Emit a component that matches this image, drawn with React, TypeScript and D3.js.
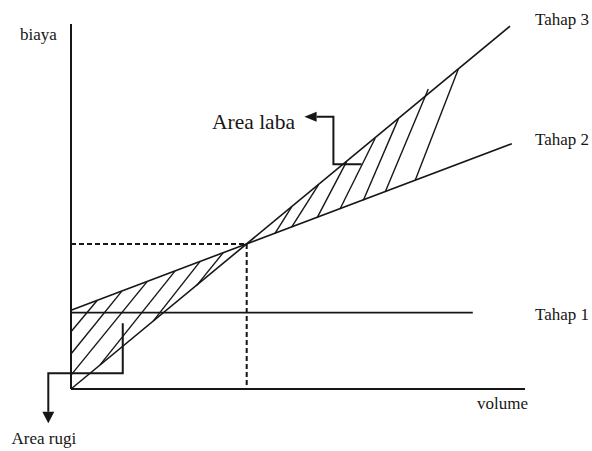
import React from "react";
import * as d3 from "d3";

// ---- data (abstract units: volume 0..100, biaya 0..100) ----
const volumeDomain = [0, 100];
const costDomain = [0, 100];

const tahap1Volume = [0, 88.5];
const tahap1Cost = [20.9, 20.9];

const tahap2Volume = [0, 97.1];
const tahap2Cost = [21.6, 67.2];

const tahap3Volume = [0, 96.7];
const tahap3Cost = [0, 99.4];

const bepVolume = 38.7;
const bepCost = 39.7;

// loss-area hatch (start -> end)
const lossStartX = [0, 0, 0, 6.4, 18.1, 27.7];
const lossStartY = [15.7, 9.6, 3.8, 6.6, 18.6, 28.4];
const lossEndX = [5.8, 11.2, 16.8, 22.9, 28.4, 33.5];
const lossEndY = [24.3, 26.8, 29.5, 32.3, 34.9, 37.3];

// profit-area hatch (lower on Tahap 2 -> upper on Tahap 3)
const profitStartX = [44.9, 48.6, 54.25, 59.25, 64.4, 69.2, 75.8];
const profitStartY = [42.6, 44.35, 47.0, 49.3, 51.7, 54.0, 57.1];
const profitEndX = [48.6, 54.5, 60.7, 67.0, 72.1, 78.7, 85.3];
const profitEndY = [49.9, 55.9, 62.3, 68.7, 74.0, 82.2, 87.6];

// annotation arrows
const labaArrowX = [64.0, 57.8, 57.8, 54.1];
const labaArrowY = [61.6, 61.6, 74.6, 74.6];
const labaTip = [51.4, 74.6];
const rugiArrowX = [11.4, 11.4, -5.0, -5.0];
const rugiArrowY = [18.0, 4.3, 4.3, -6.2];
const rugiTip = [-5.0, -9.4];

const W = 592;
const H = 451;

export default function App() {
  const x = d3.scaleLinear().domain(volumeDomain).range([71, 525]);
  const y = d3.scaleLinear().domain(costDomain).range([389, 24]);

  const line = d3
    .line<[number, number]>()
    .x((d) => x(d[0]))
    .y((d) => y(d[1]));

  const zip = (a: number[], b: number[]) =>
    a.map((v, i) => [v, b[i]] as [number, number]);

  const ink = "#161616";
  const font = "'Liberation Serif', 'Times New Roman', serif";

  const labaPts = zip(labaArrowX, labaArrowY);
  const rugiPts = zip(rugiArrowX, rugiArrowY);
  const labaLast = labaPts[labaPts.length - 1];
  const rugiLast = rugiPts[rugiPts.length - 1];

  return (
    <svg
      width={W}
      height={H}
      style={{ position: "absolute", left: 0, top: 0, background: "#fff" }}
    >
      {/* axes */}
      <line x1={x(0)} y1={y(0)} x2={x(0)} y2={y(100)} stroke={ink} strokeWidth={2} />
      <line x1={x(0)} y1={y(0)} x2={x(100)} y2={y(0)} stroke={ink} strokeWidth={2} />

      {/* BEP dashed guides */}
      <line
        x1={x(0)}
        y1={y(bepCost)}
        x2={x(bepVolume)}
        y2={y(bepCost)}
        stroke={ink}
        strokeWidth={2}
        strokeDasharray="5,3"
      />
      <line
        x1={x(bepVolume)}
        y1={y(bepCost)}
        x2={x(bepVolume)}
        y2={y(0)}
        stroke={ink}
        strokeWidth={2}
        strokeDasharray="5,3"
      />

      {/* stage lines */}
      <path d={line(zip(tahap1Volume, tahap1Cost)) || ""} stroke={ink} strokeWidth={1.8} fill="none" />
      <path d={line(zip(tahap2Volume, tahap2Cost)) || ""} stroke={ink} strokeWidth={1.6} fill="none" />
      <path d={line(zip(tahap3Volume, tahap3Cost)) || ""} stroke={ink} strokeWidth={1.6} fill="none" />

      {/* hatching */}
      {lossStartX.map((v, i) => (
        <line
          key={"l" + i}
          x1={x(v)}
          y1={y(lossStartY[i])}
          x2={x(lossEndX[i])}
          y2={y(lossEndY[i])}
          stroke={ink}
          strokeWidth={1.4}
        />
      ))}
      {profitStartX.map((v, i) => (
        <line
          key={"p" + i}
          x1={x(v)}
          y1={y(profitStartY[i])}
          x2={x(profitEndX[i])}
          y2={y(profitEndY[i])}
          stroke={ink}
          strokeWidth={1.4}
        />
      ))}

      {/* Area laba arrow */}
      <path d={line(labaPts) || ""} stroke={ink} strokeWidth={2} fill="none" />
      <path
        d={`M${x(labaTip[0])},${y(labaTip[1])} L${x(labaLast[0])},${y(labaLast[1]) - 5} L${x(labaLast[0])},${y(labaLast[1]) + 5} Z`}
        fill={ink}
      />

      {/* Area rugi arrow */}
      <path d={line(rugiPts) || ""} stroke={ink} strokeWidth={2} fill="none" />
      <path
        d={`M${x(rugiTip[0])},${y(rugiTip[1])} L${x(rugiLast[0]) - 6},${y(rugiLast[1])} L${x(rugiLast[0]) + 6},${y(rugiLast[1])} Z`}
        fill={ink}
      />

      {/* labels */}
      <g fill={ink} fontFamily={font}>
        <text x={20} y={39.5} fontSize={17}>biaya</text>
        <text x={535} y={25} fontSize={17}>Tahap 3</text>
        <text x={535} y={145} fontSize={17}>Tahap 2</text>
        <text x={535} y={319.5} fontSize={17}>Tahap 1</text>
        <text x={477} y={408.5} fontSize={17}>volume</text>
        <text x={212} y={128.5} fontSize={21.5}>Area laba</text>
        <text x={11.5} y={444} fontSize={17}>Area rugi</text>
      </g>
    </svg>
  );
}
